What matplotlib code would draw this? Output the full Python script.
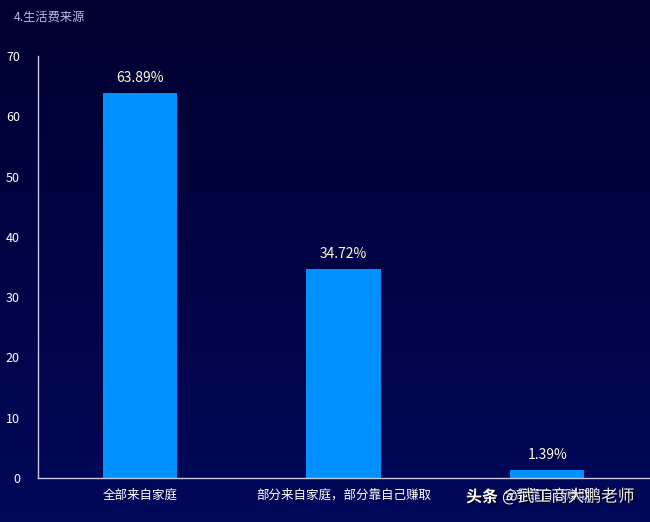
import numpy as np
import matplotlib
matplotlib.use("Agg")
from matplotlib import pyplot as plt
import matplotlib.patheffects as pe

plt.rcParams['font.family'] = ['Noto Sans CJK SC', 'DejaVu Sans']

# data
categories = ["全部来自家庭", "部分来自家庭，部分靠自己赚取", "全部靠自己赚取"]
values = [63.89, 34.72, 1.39]
yticks = [0, 10, 20, 30, 40, 50, 60, 70]

fig = plt.figure(figsize=(6.5, 5.22), dpi=100)

# background gradient
bg = fig.add_axes([0, 0, 1, 1], zorder=0)
grad = np.linspace(0, 1, 256).reshape(-1, 1)
top = np.array([0x00, 0x00, 0x30]) / 255
bottom = np.array([0x00, 0x08, 0x5a]) / 255
img = top + (bottom - top) * grad[:, :, None]
bg.imshow(img, aspect="auto", extent=[0, 1, 0, 1])
bg.axis("off")

ax = fig.add_axes([38 / 650, 1 - 478 / 522, 611 / 650, 422 / 522], zorder=1)
ax.set_facecolor("none")

x = np.arange(len(categories))
bars = ax.bar(x, values, width=0.364, color="#0091ff", zorder=2)
for xi, v in zip(x, values):
    ax.text(xi, v + 1.3, f"{v:.2f}%", ha="center", va="bottom", color="#fff8e0", fontsize=10)

ax.set_xlim(-0.5, len(categories) - 0.5)
ax.set_ylim(0, 70)
ax.set_yticks(yticks)
ax.set_xticks(x)
ax.set_xticklabels(categories)
ax.tick_params(axis="both", length=0, colors="white", labelsize=9)
ax.tick_params(axis="y", pad=13)
ax.tick_params(axis="x", pad=8)
for s in ["top", "right"]:
    ax.spines[s].set_visible(False)
for s in ["left", "bottom"]:
    ax.spines[s].set_color("#c8c8e0")
    ax.spines[s].set_linewidth(1)

fig.text(14 / 650, 1 - 17 / 522, "4.生活费来源", color="#b8b8f0", fontsize=8.8, va="center", ha="left")

# watermark
shadow = [pe.withSimplePatchShadow(offset=(1.2, -1.2), shadow_rgbFace="black", alpha=0.8)]
fig.text(466 / 650, 1 - 497 / 522, "头条", color="white", fontsize=11.5,
         fontweight="bold", va="center", ha="left", path_effects=shadow)
fig.text(502 / 650, 1 - 497 / 522, "@武工商大鹏老师", color="#f0f0f0", fontsize=12,
         va="center", ha="left", path_effects=shadow)

fig.savefig("out.png", dpi=100)
